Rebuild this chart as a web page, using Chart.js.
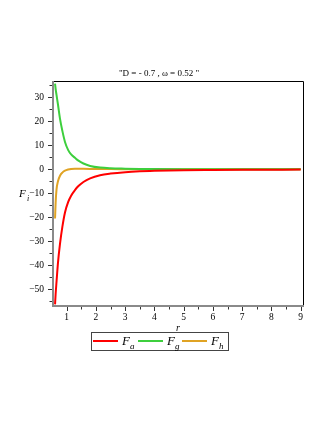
<!DOCTYPE html>
<html>
<head>
<meta charset="utf-8">
<script src="https://cdn.jsdelivr.net/npm/chart.js@4"></script>
<style>
  html, body { margin: 0; padding: 0; background: #fff; }
  #wrap { width: 327px; height: 423px; }
</style>
</head>
<body>
<div id="wrap"><canvas id="chart" width="327" height="423"></canvas></div>
<script>
// values
const rValues = [0.6, 0.62, 0.65, 0.7, 0.77, 0.85, 0.94, 1.05, 1.15, 1.28, 1.4, 1.57, 1.8, 2.14, 2.5, 3, 3.5, 4, 5, 6, 7, 8, 9];
const faValues = [-56.3, -52, -47, -39, -31, -24, -18, -13.6, -11, -8.7, -7, -5.3, -3.8, -2.5, -1.8, -1.2, -0.85, -0.65, -0.4, -0.3, -0.22, -0.17, -0.13];
const fgValues = [35.7, 33.5, 31, 27, 21, 16, 11.4, 8, 6.2, 4.8, 3.6, 2.4, 1.4, 0.7, 0.4, 0.25, 0.15, 0.1, 0.05, 0.03, 0.02, 0.02, 0.01];
const fhValues = [-20.5, -14, -8.5, -5, -2.7, -1.4, -0.6, -0.1, 0.15, 0.25, 0.25, 0.2, 0.15, 0.1, 0.07, 0.05, 0.03, 0.02, 0.01, 0, 0, 0, 0];

const xTicks = [1, 2, 3, 4, 5, 6, 7, 8, 9];
const yTicks = [-50, -40, -30, -20, -10, 0, 10, 20, 30];
const seriesNames = ['a', 'g', 'h'];
const seriesColors = ['#ff0000', '#3dcf3d', '#e0a324'];
const titleText = '"D = - 0.7 , \u03c9 = 0.52 "';

const serif = '"Liberation Serif", "DejaVu Serif", serif';

function toPoints(vals) {
  return rValues.map((r, i) => ({ x: r, y: vals[i] }));
}

// draws the frame, ticks, labels and legend the Maple way
const maplePlugin = {
  id: 'maple',
  afterDraw(chart) {
    const ctx = chart.ctx;
    const a = chart.chartArea;
    const xs = chart.scales.x;
    const ys = chart.scales.y;
    ctx.save();

    // top and right frame
    ctx.strokeStyle = '#000';
    ctx.lineWidth = 1;
    ctx.beginPath();
    ctx.moveTo(a.left, a.top + 0.5);
    ctx.lineTo(a.right + 0.5, a.top + 0.5);
    ctx.lineTo(a.right + 0.5, a.bottom);
    ctx.stroke();

    // left and bottom axes
    ctx.strokeStyle = '#8a8a8a';
    ctx.lineWidth = 2;
    ctx.beginPath();
    ctx.moveTo(a.left, a.top);
    ctx.lineTo(a.left, a.bottom);
    ctx.lineTo(a.right + 1, a.bottom);
    ctx.stroke();

    // ticks
    ctx.strokeStyle = '#333';
    ctx.lineWidth = 1;
    ctx.beginPath();
    for (let v = 1; v <= 9; v += 0.5) {
      const px = Math.round(xs.getPixelForValue(v)) + 0.5;
      const len = Number.isInteger(v) ? 4 : 2.5;
      ctx.moveTo(px, a.bottom + 1);
      ctx.lineTo(px, a.bottom + 1 + len);
    }
    for (let v = -55; v <= 35; v += 5) {
      const py = Math.round(ys.getPixelForValue(v)) + 0.5;
      const len = v % 10 === 0 ? 4 : 2.5;
      ctx.moveTo(a.left - 1, py);
      ctx.lineTo(a.left - 1 - len, py);
    }
    ctx.stroke();

    // title
    ctx.fillStyle = '#000';
    ctx.font = '9px ' + serif;
    ctx.textAlign = 'center';
    ctx.textBaseline = 'alphabetic';
    ctx.fillText(titleText, 159, 76);

    // axis labels
    ctx.font = 'italic 11px ' + serif;
    ctx.textAlign = 'left';
    ctx.fillText('F', 19, 197);
    ctx.font = 'italic 8px ' + serif;
    ctx.fillText('i', 27, 201);
    ctx.font = 'italic 10px ' + serif;
    ctx.fillText('r', 176, 331);

    // legend box
    ctx.strokeStyle = '#444';
    ctx.lineWidth = 1;
    ctx.strokeRect(91.5, 332.5, 137, 18);
    const starts = [93, 138, 182];
    seriesNames.forEach((n, i) => {
      const x0 = starts[i];
      ctx.strokeStyle = seriesColors[i];
      ctx.lineWidth = 2;
      ctx.beginPath();
      ctx.moveTo(x0, 341);
      ctx.lineTo(x0 + 25, 341);
      ctx.stroke();
      ctx.fillStyle = '#000';
      ctx.font = 'italic 13px ' + serif;
      ctx.fillText('F', x0 + 29, 345);
      ctx.font = 'italic 9px ' + serif;
      ctx.fillText(n, x0 + 37, 349);
    });

    ctx.restore();
  }
};

const ctx = document.getElementById('chart').getContext('2d');
new Chart(ctx, {
  type: 'line',
  data: {
    datasets: [
      { label: 'Fa', data: toPoints(faValues) },
      { label: 'Fg', data: toPoints(fgValues) },
      { label: 'Fh', data: toPoints(fhValues) }
    ].map((d, i) => Object.assign(d, {
      borderColor: seriesColors[i],
      borderWidth: 2,
      pointRadius: 0,
      fill: false,
      cubicInterpolationMode: 'monotone'
    }))
  },
  options: {
    responsive: false,
    animation: false,
    layout: { padding: { left: 8, right: 24, top: 81, bottom: 97 } },
    plugins: {
      legend: { display: false },
      title: { display: false },
      tooltip: { enabled: false }
    },
    scales: {
      x: {
        type: 'linear',
        min: 0.53,
        max: 9.08,
        grid: { display: false, drawTicks: false },
        border: { display: false },
        afterBuildTicks: s => { s.ticks = xTicks.map(v => ({ value: v })); },
        afterFit: s => { s.height = 20; },
        ticks: {
          padding: 6,
          maxRotation: 0,
          color: '#000',
          font: { family: serif, size: 9.5 },
          callback: v => String(v)
        }
      },
      y: {
        type: 'linear',
        min: -57,
        max: 36.8,
        grid: { display: false, drawTicks: false },
        border: { display: false },
        afterBuildTicks: s => { s.ticks = yTicks.map(v => ({ value: v })); },
        afterFit: s => { s.width = 45; },
        ticks: {
          padding: 9,
          color: '#000',
          font: { family: serif, size: 9.5 },
          callback: v => (v < 0 ? '\u2212' + Math.abs(v) : String(v))
        }
      }
    }
  },
  plugins: [maplePlugin]
});
</script>
</body>
</html>
